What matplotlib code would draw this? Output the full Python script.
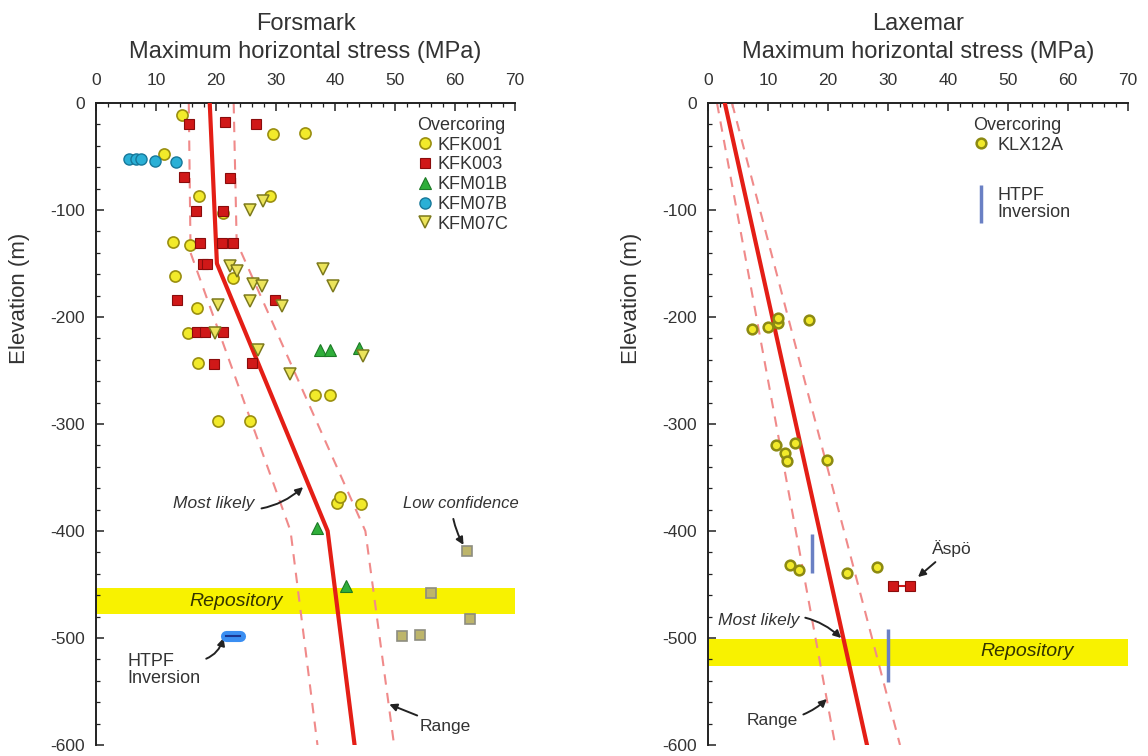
import matplotlib
matplotlib.use("Agg")
import matplotlib.pyplot as plt
from matplotlib.lines import Line2D
from matplotlib.ticker import MultipleLocator

plt.rcParams['font.family'] = ['Liberation Sans', 'DejaVu Sans']
plt.rcParams['axes.unicode_minus'] = False

# ---------------- Forsmark data ----------------
kfk001_x = [14.4, 29.5, 34.9, 11.4, 17.2, 29.0, 21.3, 12.9, 15.7, 13.2, 22.9, 16.8, 15.4,
            17.0, 20.4, 25.7, 36.6, 39.1, 40.2, 40.7, 44.2]
kfk001_y = [-11, -29, -28, -48, -87, -87, -103, -130, -133, -162, -164, -192, -215,
            -243, -297, -297, -273, -273, -374, -368, -375]

kfk003_x = [15.5, 21.5, 26.8, 14.7, 22.4, 16.7, 21.2, 17.4, 21.0, 22.9, 17.9, 18.5,
            13.5, 29.9, 16.8, 18.2, 21.2, 19.7, 26.0]
kfk003_y = [-20, -18, -20, -69, -70, -101, -101, -131, -131, -131, -150, -150,
            -184, -184, -214, -214, -214, -244, -243]

kfm01b_x = [37.4, 39.1, 44.0, 37.0, 41.7]
kfm01b_y = [-231, -231, -229, -397, -451]

kfm07b_x = [5.5, 6.6, 7.6, 9.8, 13.4]
kfm07b_y = [-52, -52, -52, -54, -55]

kfm07c_x = [25.7, 27.9, 37.9, 39.6, 22.4, 23.5, 26.2, 27.7, 25.7, 20.4, 31.0, 19.9,
            27.0, 32.4, 44.6]
kfm07c_y = [-100, -92, -155, -171, -152, -157, -169, -171, -185, -189, -190, -215,
            -231, -253, -236]

lowconf_x = [61.9, 55.9, 62.4, 51.1, 54.1]
lowconf_y = [-419, -458, -482, -498, -497]

fm_likely_x = [19.0, 20.2, 38.7, 43.2]
fm_likely_y = [0, -150, -400, -600]
fm_rlow_x = [15.5, 15.8, 32.5, 37.0]
fm_rlow_y = [0, -140, -400, -600]
fm_rhigh_x = [23.0, 23.5, 45.0, 49.8]
fm_rhigh_y = [0, -130, -400, -600]

fm_htpf_x = [21.8, 24.0]
fm_htpf_y = [-498, -498]

fm_repo = (-478, -453)

# ---------------- Laxemar data ----------------
klx12a_x = [7.3, 10.0, 11.7, 11.7, 16.8, 11.3, 14.5, 12.8, 13.2, 19.8, 13.7, 15.2, 23.2, 28.2]
klx12a_y = [-211, -209, -206, -201, -203, -320, -318, -327, -335, -334, -432, -436, -439, -434]

aspo_x = [30.8, 33.7]
aspo_y = [-451, -451]

lx_likely_x = [2.8, 26.5]
lx_likely_y = [0, -600]
lx_rlow_x = [1.5, 21.2]
lx_rlow_y = [0, -600]
lx_rhigh_x = [4.0, 32.0]
lx_rhigh_y = [0, -600]

lx_htpf_x = [17.3, 30.0]
lx_htpf_top = [-403, -492]
lx_htpf_bot = [-439, -541]

lx_repo = (-526, -501)

# ---------------- styles ----------------
YEL = '#f2ea2a'
YEL_E = '#9a8f10'
RED = '#d01818'
RED_E = '#8a0c0c'
GRN = '#2fae3a'
CYAN = '#2ab0d6'
CYAN_E = '#17789a'
LINE_RED = '#e41e16'
DASH = '#f08a8a'
REPO = '#f8f200'
TXT = '#333333'
HTPF_C = '#6a80c4'
W, H = 1148, 756
TOP, BOT = 103, 745

fig = plt.figure(figsize=(W / 100, H / 100), dpi=100)
axL = fig.add_axes([96 / W, (H - BOT) / H, 419 / W, (BOT - TOP) / H])
axR = fig.add_axes([708 / W, (H - BOT) / H, 420 / W, (BOT - TOP) / H])

for ax in (axL, axR):
    ax.set_xlim(0, 70)
    ax.set_ylim(-600, 0)
    ax.xaxis.tick_top()
    ax.spines['right'].set_visible(False)
    ax.spines['bottom'].set_visible(False)
    for s in ('top', 'left'):
        ax.spines[s].set_linewidth(1.4)
        ax.spines[s].set_color('#222222')
    ax.xaxis.set_major_locator(MultipleLocator(10))
    ax.xaxis.set_minor_locator(MultipleLocator(2))
    ax.yaxis.set_major_locator(MultipleLocator(100))
    ax.yaxis.set_minor_locator(MultipleLocator(20))
    ax.tick_params(which='both', direction='in', colors='#222222', labelcolor=TXT,
                   labelsize=12.5, top=True, bottom=False, right=False, left=True)
    ax.tick_params(which='major', length=6, width=1.1)
    ax.tick_params(which='minor', length=3, width=0.9)
    ax.tick_params(axis='x', which='major', pad=11)
    ax.tick_params(axis='y', which='major', pad=8)

# titles and axis labels placed in figure pixels
for cx, name in ((305.5, 'Forsmark'), (918, 'Laxemar')):
    fig.text(cx / W, 1 - 24 / H, name, fontsize=17, color=TXT, ha='center', va='center')
    fig.text(cx / W, 1 - 52 / H, 'Maximum horizontal stress (MPa)', fontsize=17,
             color=TXT, ha='center', va='center')
for lx in (20, 632):
    fig.text(lx / W, 1 - 298 / H, 'Elevation (m)', fontsize=16, color=TXT,
             ha='center', va='center', rotation=90)

ann = dict(arrowstyle='-|>', color='#222222', lw=1.4, mutation_scale=11)

# ---------------- Forsmark ----------------
axL.axhspan(fm_repo[0], fm_repo[1], color=REPO, zorder=1, lw=0)
axL.plot(fm_rlow_x, fm_rlow_y, color=DASH, lw=1.5, dashes=(5, 4), zorder=2)
axL.plot(fm_rhigh_x, fm_rhigh_y, color=DASH, lw=1.5, dashes=(5, 4), zorder=2)
axL.plot(fm_likely_x, fm_likely_y, color=LINE_RED, lw=3, zorder=3)

h1, = axL.plot(kfk001_x, kfk001_y, 'o', ms=8, mfc=YEL, mec=YEL_E, mew=1.2, zorder=4, label='KFK001')
h2, = axL.plot(kfk003_x, kfk003_y, 's', ms=7.5, mfc=RED, mec=RED_E, mew=0.8, zorder=5, label='KFK003')
h3, = axL.plot(kfm01b_x, kfm01b_y, '^', ms=8, mfc=GRN, mec='#1d7a26', mew=0.8, zorder=5, label='KFM01B')
h4, = axL.plot(kfm07b_x, kfm07b_y, 'o', ms=8, mfc=CYAN, mec=CYAN_E, mew=1.0, zorder=5, label='KFM07B')
h5, = axL.plot(kfm07c_x, kfm07c_y, 'v', ms=8, mfc='#ece45a', mec='#7d7a1c', mew=1.1, zorder=5, label='KFM07C')
axL.plot(lowconf_x, lowconf_y, 's', ms=7.5, mfc='#bdb56a', mec='#8d8d80', mew=1.2, zorder=5)
axL.plot(fm_htpf_x, fm_htpf_y, color='#3a8ef2', lw=8, solid_capstyle='round', zorder=5)
axL.plot(fm_htpf_x, fm_htpf_y, color='#1a3590', lw=1.5, zorder=6)

legL = axL.legend(handles=[h1, h2, h3, h4, h5], title='Overcoring', loc='upper left',
                  bbox_to_anchor=(0.74, 0.995), frameon=False, fontsize=13,
                  title_fontsize=13, handletextpad=0.25, labelspacing=0.15,
                  handlelength=0.9, borderpad=0.1, alignment='left')
for t in legL.get_texts():
    t.set_color(TXT)
legL.get_title().set_color(TXT)

axL.text(23.4, -466, 'Repository', style='italic', fontsize=14, color='#333300',
         ha='center', va='center', zorder=6)
axL.annotate('Most likely', xy=(34.6, -359), xytext=(26.5, -374), style='italic',
             fontsize=12.5, color=TXT, ha='right', va='center',
             arrowprops=dict(ann, connectionstyle='arc3,rad=0.3', shrinkA=3, shrinkB=0))
axL.annotate('Low confidence', xy=(61.4, -413), xytext=(61.0, -374), style='italic',
             fontsize=12, color=TXT, ha='center', va='center',
             arrowprops=dict(ann, connectionstyle='arc3,rad=0.1', shrinkA=4, shrinkB=0,
                             relpos=(0.42, 0.0)))
axL.annotate('HTPF\nInversion', xy=(21.3, -500), xytext=(5.3, -530), fontsize=13,
             color=TXT, ha='left', va='center', linespacing=1.05,
             arrowprops=dict(ann, connectionstyle='arc3,rad=0.35', shrinkA=2, shrinkB=0,
                             relpos=(0.9, 0.75)))
axL.annotate('Range', xy=(49.0, -562), xytext=(54.1, -583), fontsize=12.5,
             color=TXT, ha='left', va='center',
             arrowprops=dict(ann, connectionstyle='arc3,rad=0.0', shrinkA=2, shrinkB=0))

# ---------------- Laxemar ----------------
axR.axhspan(lx_repo[0], lx_repo[1], color=REPO, zorder=1, lw=0)
axR.plot(lx_rlow_x, lx_rlow_y, color=DASH, lw=1.5, dashes=(5, 4), zorder=2)
axR.plot(lx_rhigh_x, lx_rhigh_y, color=DASH, lw=1.5, dashes=(5, 4), zorder=2)
axR.plot(lx_likely_x, lx_likely_y, color=LINE_RED, lw=3, zorder=3)
axR.vlines(lx_htpf_x, lx_htpf_bot, lx_htpf_top, color=HTPF_C, lw=2.5, zorder=4)
g1, = axR.plot(klx12a_x, klx12a_y, 'o', ms=7, mfc=YEL, mec='#8c8a12', mew=1.8, zorder=5, label='KLX12A')
axR.plot(aspo_x, aspo_y, 's-', ms=7.5, color=RED, mfc=RED, mec=RED_E, mew=0.8, lw=1.5, zorder=5)

legR = axR.legend(handles=[g1], title='Overcoring', loc='upper left',
                  bbox_to_anchor=(0.605, 0.995), frameon=False, fontsize=13,
                  title_fontsize=13, handletextpad=0.45, labelspacing=0.15,
                  handlelength=0.9, borderpad=0.1, alignment='left')
for t in legR.get_texts():
    t.set_color(TXT)
legR.get_title().set_color(TXT)
axR.add_artist(legR)
g2 = Line2D([], [], ls='none', marker='|', ms=28, mew=2.5, color=HTPF_C, label='HTPF\nInversion')
legR2 = axR.legend(handles=[g2], loc='center left',
                   bbox_to_anchor=(0.605, (BOT - 204) / (BOT - TOP)), frameon=False,
                   fontsize=13, handletextpad=0.45, handlelength=0.9, borderpad=0.1)
for t in legR2.get_texts():
    t.set_color(TXT)
    t.set_linespacing(1.05)

axR.text(53.2, -513, 'Repository', style='italic', fontsize=14, color='#333300',
         ha='center', va='center', zorder=6)
axR.annotate('Most likely', xy=(22.2, -500), xytext=(15.3, -484), style='italic',
             fontsize=12.5, color=TXT, ha='right', va='center',
             arrowprops=dict(ann, connectionstyle='arc3,rad=-0.3', shrinkA=2, shrinkB=0))
axR.annotate('Range', xy=(19.8, -557), xytext=(15.0, -577), fontsize=12.5,
             color=TXT, ha='right', va='center',
             arrowprops=dict(ann, connectionstyle='arc3,rad=0.2', shrinkA=2, shrinkB=0))
axR.annotate('Äspö', xy=(35.0, -443), xytext=(37.3, -416), fontsize=12.5,
             color=TXT, ha='left', va='center',
             arrowprops=dict(ann, connectionstyle='arc3,rad=0.0', shrinkA=3, shrinkB=0))

fig.savefig('out.png', dpi=100)
